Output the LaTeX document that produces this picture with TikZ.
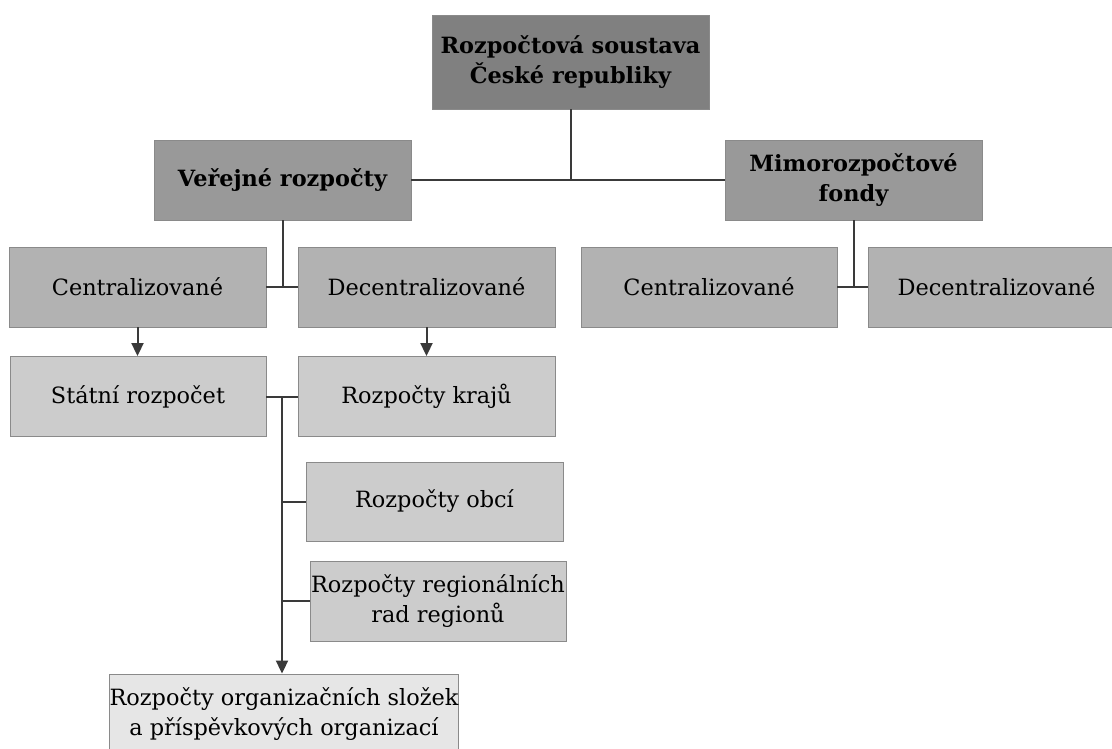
\documentclass[tikz,border=0pt]{standalone}
\usepackage{fontspec}
\setmainfont{DejaVu Serif}
\usetikzlibrary{arrows.meta,calc}
\definecolor{lv1}{HTML}{808080}
\definecolor{lv2}{HTML}{999999}
\definecolor{lv3}{HTML}{B2B2B2}
\definecolor{lv4}{HTML}{CCCCCC}
\definecolor{lv5}{HTML}{E6E6E6}
\definecolor{edge}{HTML}{8A8A8A}
\definecolor{conn}{HTML}{3A3A3A}
\begin{document}
\begin{tikzpicture}[x=1pt,y=-1pt,
  box/.style={draw=edge, line width=0.9pt, align=center, inner sep=0pt,
    text=black, font=\fontsize{22.4}{29.5}\selectfont},
  hbox/.style={box, font=\fontsize{22.4}{30}\selectfont\bfseries},
  link/.style={draw=conn, line width=2pt},
  arr/.style={link, -{Triangle[width=12pt,length=13pt]}}]
\useasboundingbox (0,0) rectangle (1112,749);
\node[hbox, fill=lv1, minimum width=277pt, minimum height=94pt] (top) at (570.5,62) {Rozpočtová soustava\\České republiky};
\node[hbox, fill=lv2, minimum width=257pt, minimum height=80pt] (ver) at (282.5,180) {Veřejné rozpočty};
\node[hbox, fill=lv2, minimum width=257pt, minimum height=80pt] (mim) at (853.5,180) {Mimorozpočtové\\fondy};
\node[box, fill=lv3, minimum width=257pt, minimum height=80pt] (cenL) at (137.5,287) {Centralizované};
\node[box, fill=lv3, minimum width=257pt, minimum height=80pt] (decL) at (426.5,287) {Decentralizované};
\node[box, fill=lv3, minimum width=256pt, minimum height=80pt] (cenR) at (709,287) {Centralizované};
\node[box, fill=lv3, minimum width=257pt, minimum height=80pt] (decR) at (996.5,287) {Decentralizované};
\node[box, fill=lv4, minimum width=256pt, minimum height=80pt] (stat) at (138,396.5) {Státní rozpočet};
\node[box, fill=lv4, minimum width=257pt, minimum height=80pt] (kraj) at (426.5,396.5) {Rozpočty krajů};
\node[box, fill=lv4, minimum width=257pt, minimum height=79pt] (obci) at (434.5,501.5) {Rozpočty obcí};
\node[box, fill=lv4, minimum width=256pt, minimum height=80pt] (reg) at (438,601) {Rozpočty regionálních\\rad regionů};
\node[box, fill=lv5, minimum width=348pt, minimum height=80pt] (org) at (284,714) {Rozpočty organizačních složek\\a příspěvkových organizací};
% connectors
\draw[link] (ver.east) -- (mim.west);
\draw[link] (top.south) -- (top.south |- ver.east);
\draw[link] (cenL.east) -- (decL.west);
\draw[link] (ver.south) -- (ver.south |- cenL.east);
\draw[link] (cenR.east) -- (decR.west);
\draw[link] (mim.south) -- (mim.south |- cenR.east);
\draw[arr] (cenL.south) -- (cenL.south |- stat.north);
\draw[arr] (decL.south) -- (decL.south |- kraj.north);
\draw[link] (stat.east) -- (kraj.west);
\coordinate (j) at ($(stat.east)!0.5!(kraj.west)$);
\draw[arr] (j) -- (j |- org.north);
\draw[link] (obci.west) -- (j |- obci.west);
\draw[link] (reg.west) -- (j |- reg.west);
\end{tikzpicture}
\end{document}
